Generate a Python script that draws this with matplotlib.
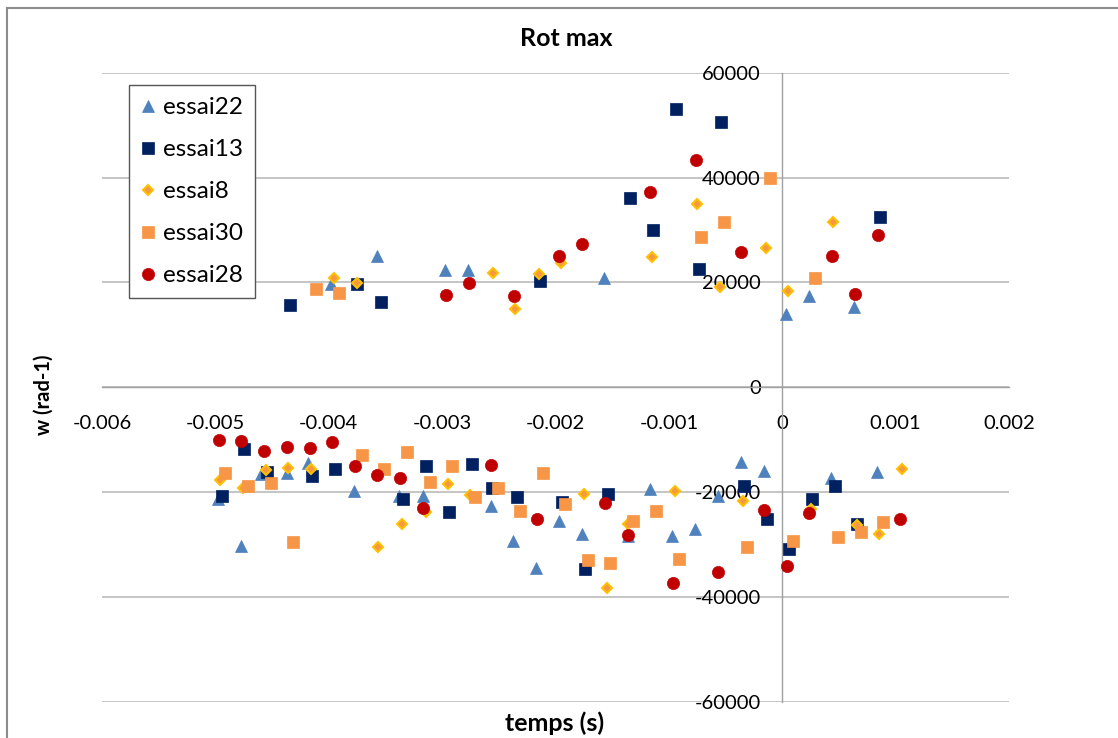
import matplotlib
matplotlib.use("Agg")
import matplotlib.pyplot as plt
from matplotlib.ticker import FixedLocator, FuncFormatter
from matplotlib.lines import Line2D

plt.rcParams['font.family'] = ['Lato', 'DejaVu Sans']

# ---------------- data ----------------
essai22_x = [-0.004973, -0.004773, -0.004597, -0.004371, -0.004180, -0.003980, -0.003774, -0.003570,
             -0.003377, -0.003171, -0.002971, -0.002770, -0.002569, -0.002372, -0.002172, -0.001969,
             -0.001766, -0.001570, -0.001360, -0.001169, -0.000970, -0.000767, -0.000570, -0.000364,
             -0.000164, 0.000035, 0.000235, 0.000432, 0.000632, 0.000835]
essai22_y = [-21330, -30300, -16620, -16310, -14520, 19690, -19750, 25050,
             -20760, -20760, 22300, 22420, -22670, -29400, -34440, -25470,
             -28010, 20780, -28400, -19490, -28390, -27120, -20760, -14210,
             -15900, 13970, 17460, -17390, 15360, -16240]

essai13_x = [-0.004944, -0.004744, -0.004547, -0.004345, -0.004144, -0.003944, -0.003746, -0.003540,
             -0.003342, -0.003139, -0.002942, -0.002739, -0.002560, -0.002342, -0.002140, -0.001943,
             -0.001740, -0.001540, -0.001340, -0.001140, -0.000937, -0.000737, -0.000541, -0.000338,
             -0.000132, 0.000059, 0.000259, 0.000462, 0.000659, 0.000859]
essai13_y = [-20700, -11734, -16240, 15600, -16890, -15660, 19700, 16250,
             -21330, -14970, -23810, -14650, -19170, -20890, 20200, -21960,
             -34630, -20380, 36100, 30050, 53080, 22490, 50540, -18910,
             -25150, -30930, -21270, -18850, -26160, 32470]

essai8_x = [-0.004959, -0.004758, -0.004556, -0.004356, -0.004153, -0.003957, -0.003750, -0.003563,
            -0.003353, -0.003145, -0.002951, -0.002754, -0.002552, -0.002354, -0.002149, -0.001951,
            -0.001751, -0.001549, -0.001357, -0.001149, -0.000949, -0.000750, -0.000549, -0.000349,
            -0.000146, 0.000050, 0.000253, 0.000450, 0.000659, 0.000855, 0.001056]
essai8_y = [-17706, -19290, -15860, -15480, -15610, 20830, 19900, -30490,
            -26100, -23870, -18530, -20570, 21850, 14950, 21600, 23640,
            -20380, -38310, -26160, 24840, -19870, 35010, 19060, -21710,
            26500, 18350, -23300, 31520, -26200, -28070, -15550]

essai30_x = [-0.004914, -0.004714, -0.004511, -0.004312, -0.004112, -0.003913, -0.003709, -0.003510,
             -0.003310, -0.003109, -0.002910, -0.002710, -0.002510, -0.002310, -0.002110, -0.001916,
             -0.001713, -0.001517, -0.001314, -0.001111, -0.000911, -0.000714, -0.000511, -0.000311,
             -0.000111, 0.000092, 0.000291, 0.000488, 0.000691, 0.000888]
essai30_y = [-16370, -18790, -18340, -29540, 18680, 18030, -12879, -15600,
             -12420, -18090, -14970, -21010, -19170, -23560, -16310, -22230,
             -33030, -33540, -25470, -23560, -32720, 28660, 31580, -30490,
             39860, -29400, 20780, -28580, -27630, -25720]

essai28_x = [-0.004970, -0.004773, -0.004571, -0.004371, -0.004168, -0.003968, -0.003768, -0.003571,
             -0.003368, -0.003168, -0.002968, -0.002766, -0.002566, -0.002366, -0.002166, -0.001966,
             -0.001766, -0.001566, -0.001363, -0.001164, -0.000964, -0.000764, -0.000564, -0.000364,
             -0.000161, 0.000039, 0.000238, 0.000438, 0.000638, 0.000841, 0.001041]
essai28_y = [-10017, -10265, -12230, -11352, -11543, -10513, -15035, -16695,
             -17390, -23050, 17500, 19820, -14840, 17370, -25200, 25030,
             27260, -22150, -28200, 37180, -37420, 43410, -35200, 25740,
             -23430, -34060, -24060, 25030, 17780, 29100, -25200]

x_ticks = [-0.006, -0.005, -0.004, -0.003, -0.002, -0.001, 0.0, 0.001, 0.002]
y_ticks = [-60000, -40000, -20000, 0, 20000, 40000, 60000]

title = "Rot max"
xlabel = "temps (s)"
ylabel = "w (rad-1)"

# ---------------- figure ----------------
W, H = 1118, 738
fig = plt.figure(figsize=(W / 100, H / 100), dpi=100)
fig.patch.set_facecolor("white")

ax = fig.add_axes([101.9 / W, 1 - 701.7 / H, (1009 - 101.9) / W, (701.7 - 72.7) / H])
ax.set_xlim(-0.006, 0.002)
ax.set_ylim(-60000, 60000)

series = [
    ("essai22", essai22_x, essai22_y, dict(marker="^", ms=9.0, mfc="#4F81BD", mec="#4F81BD", mew=0.5)),
    ("essai13", essai13_x, essai13_y, dict(marker="s", ms=8.0, mfc="#002060", mec="#002060", mew=0.5)),
    ("essai8", essai8_x, essai8_y, dict(marker="D", ms=5.6, mfc="#F79646", mec="#FFC000", mew=1.5)),
    ("essai30", essai30_x, essai30_y, dict(marker="s", ms=8.0, mfc="#F79646", mec="#F79646", mew=0.5)),
    ("essai28", essai28_x, essai28_y, dict(marker="o", ms=8.8, mfc="#C00000", mec="#C00000", mew=0.5)),
]
for name, xs, ys, st in series:
    ax.plot(xs, ys, linestyle="none", label=name, zorder=3, **st)

# axes styling (Excel-like)
for s in ("top", "right"):
    ax.spines[s].set_visible(False)
ax.spines["left"].set_position(("data", 0))
ax.spines["bottom"].set_position(("data", 0))
for s in ("left", "bottom"):
    ax.spines[s].set_color("#A0A0A0")
    ax.spines[s].set_linewidth(1.0)

ax.xaxis.set_major_locator(FixedLocator(x_ticks))
ax.yaxis.set_major_locator(FixedLocator(y_ticks))
ax.xaxis.set_major_formatter(FuncFormatter(lambda v, p: f"{round(v, 6):g}"))
ax.yaxis.set_major_formatter(FuncFormatter(lambda v, p: f"{int(round(v))}"))
ax.tick_params(axis="both", length=0, labelsize=14.5, labelcolor="black")
ax.tick_params(axis="y", pad=15.5)
ax.tick_params(axis="x", pad=20)

ax.yaxis.grid(True, color="#C0C0C0", linewidth=1.3)
ax.xaxis.grid(False)
ax.set_axisbelow(True)

# legend
leg = ax.legend(loc="upper left", bbox_to_anchor=(129.3 / W, 1 - 85.3 / H),
                bbox_transform=fig.transFigure, borderaxespad=0, fontsize=17.5,
                frameon=True, fancybox=False, shadow=False, framealpha=1,
                edgecolor="#555555", borderpad=0.5, labelspacing=0.86,
                handlelength=0.5, handletextpad=0.37, numpoints=1)
leg.get_frame().set_linewidth(1.0)

# texts
fig.text(566 / W, 1 - 38 / H, title, ha="center", va="center", fontsize=18, fontweight="bold")
fig.text(555 / W, 1 - 723 / H, xlabel, ha="center", va="center", fontsize=18, fontweight="bold")
fig.text(44 / W, 1 - 395 / H, ylabel, ha="center", va="center", fontsize=14.5, fontweight="bold",
         rotation=90)

# chart-area border (partially visible at top/left)
fig.add_artist(Line2D([7 / W, 7 / W], [1 - 8 / H, -0.1], transform=fig.transFigure,
                      color="#8C8C8C", linewidth=1.5))
fig.add_artist(Line2D([7 / W, 1.1], [1 - 8 / H, 1 - 8 / H], transform=fig.transFigure,
                      color="#8C8C8C", linewidth=1.5))

fig.savefig("out.png", dpi=100, facecolor="white")
